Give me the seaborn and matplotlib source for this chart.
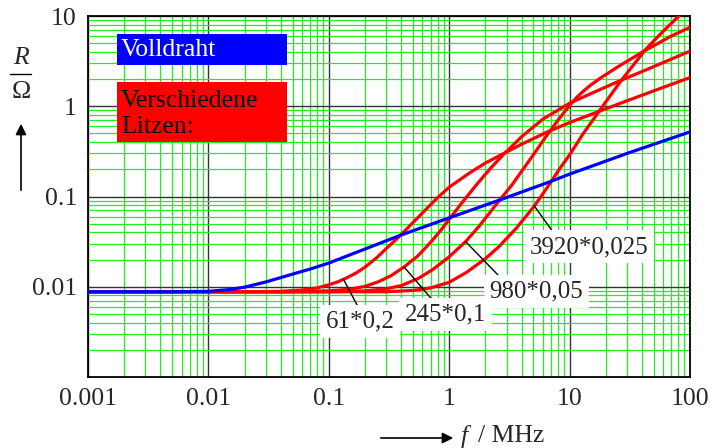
import matplotlib
matplotlib.use("Agg")
import matplotlib.pyplot as plt
from matplotlib.patches import Rectangle, FancyArrowPatch
from matplotlib.ticker import LogLocator, NullFormatter
import numpy as np
import pandas as pd
import seaborn as sns

# --- Daten ---
f_voll = [0.001, 0.005, 0.01, 0.015, 0.02, 0.03, 0.05, 0.07, 0.1, 0.2, 0.4, 1, 2.6, 6.8, 10, 30, 100]
r_voll = [0.0088, 0.0088, 0.0089, 0.0093, 0.0099, 0.0113, 0.0138, 0.0157, 0.0183, 0.0262, 0.0375,
          0.058, 0.091, 0.145, 0.177, 0.30, 0.52]

f_61 = [0.001, 0.02, 0.04, 0.06, 0.08, 0.1, 0.12, 0.14, 0.17, 0.2, 0.25, 0.3, 0.35, 0.4, 0.56, 0.8,
        1, 1.5, 2, 2.77, 4, 6.35, 10, 16.5, 30, 60, 100]
r_61 = [0.0088, 0.0088, 0.0089, 0.0092, 0.0097, 0.0105, 0.0114, 0.0125, 0.0143, 0.0165, 0.021,
        0.0265, 0.032, 0.038, 0.060, 0.097, 0.127, 0.185, 0.235, 0.295, 0.38, 0.51, 0.66, 0.85,
        1.15, 1.62, 2.08]

f_245 = [0.001, 0.05, 0.1, 0.15, 0.2, 0.26, 0.33, 0.42, 0.55, 0.7, 0.85, 1.0, 1.3, 1.7, 2.2, 2.77,
         4, 6, 10, 15, 25.8, 50, 100]
r_245 = [0.0088, 0.0088, 0.0090, 0.0094, 0.0101, 0.0114, 0.0133, 0.0165, 0.022, 0.031, 0.042,
         0.056, 0.088, 0.137, 0.205, 0.285, 0.46, 0.72, 1.08, 1.38, 1.9, 2.75, 4.08]

f_980 = [0.001, 0.1, 0.2, 0.3, 0.4, 0.55, 0.73, 1.0, 1.38, 1.8, 2.6, 3.3, 4.06, 5.0, 6.35, 8, 10,
         11.5, 13, 15, 18, 25, 33, 43, 70, 100]
r_980 = [0.0088, 0.0088, 0.0090, 0.0095, 0.0103, 0.0123, 0.0155, 0.0215, 0.032, 0.048, 0.090,
         0.133, 0.196, 0.29, 0.46, 0.70, 1.02, 1.26, 1.47, 1.72, 2.05, 2.72, 3.4, 4.2, 6.0, 7.5]

f_3920 = [0.001, 0.3, 0.5, 0.7, 1.0, 1.4, 2.0, 2.6, 3.58, 5.08, 6.76, 8.2, 10, 13, 18, 25.8, 43,
          60, 81, 88]
r_3920 = [0.0088, 0.0088, 0.0091, 0.0097, 0.0112, 0.0145, 0.0205, 0.028, 0.044, 0.078, 0.135,
          0.20, 0.29, 0.5, 0.92, 1.8, 4.3, 6.8, 10.0, 11.2]

serien = ["61*0,2", "245*0,1", "980*0,05", "3920*0,025", "Volldraht"]
farben = {"61*0,2": "#ff0000", "245*0,1": "#ff0000", "980*0,05": "#ff0000",
          "3920*0,025": "#ff0000", "Volldraht": "#0000ff"}

frames = []
for name, f, r in [("61*0,2", f_61, r_61), ("245*0,1", f_245, r_245), ("980*0,05", f_980, r_980),
                   ("3920*0,025", f_3920, r_3920), ("Volldraht", f_voll, r_voll)]:
    frames.append(pd.DataFrame({"f": f, "R": r, "serie": name}))
df = pd.concat(frames, ignore_index=True)

# Beschriftungen: Punkt auf Kurve, Textposition
label_xy = {"61*0,2": (0.132, 0.0122), "245*0,1": (0.423, 0.0165),
            "980*0,05": (1.376, 0.0314), "3920*0,025": (5.08, 0.079)}
label_txt = {"61*0,2": (0.182, 0.0041), "245*0,1": (0.93, 0.0049),
             "980*0,05": (5.3, 0.0088), "3920*0,025": (14.5, 0.0276)}
label_rel = {"61*0,2": (0.5, 1.0), "245*0,1": (0.38, 1.0),
             "980*0,05": (0.15, 1.0), "3920*0,025": (0.22, 1.0)}

sns.set_style("white")
plt.rcParams["font.family"] = ["Liberation Serif", "DejaVu Serif"]
FS = 18.5

fig = plt.figure(figsize=(7.12, 4.48), dpi=100)
ax = fig.add_axes([88 / 712, 1 - 377 / 448, 602 / 712, 361 / 448])
ax.set_xscale("log")
ax.set_yscale("log")

sns.lineplot(data=df, x="f", y="R", hue="serie", hue_order=serien, palette=farben,
             estimator=None, sort=False, legend=False, lw=2.3, ax=ax, zorder=5)
for ln in ax.get_lines():
    ln.set_solid_joinstyle("round")

ax.set_xlim(0.001, 100)
ax.set_ylim(0.001, 10)

ax.xaxis.set_minor_locator(LogLocator(base=10, subs=np.arange(2, 10), numticks=20))
ax.yaxis.set_minor_locator(LogLocator(base=10, subs=np.arange(2, 10), numticks=20))
ax.xaxis.set_minor_formatter(NullFormatter())
ax.yaxis.set_minor_formatter(NullFormatter())
ax.grid(which="minor", color="#22ee22", lw=0.9)
ax.grid(which="major", color="#333333", lw=1.0)
ax.set_axisbelow(True)

xt = [0.001, 0.01, 0.1, 1, 10, 100]
ax.set_xticks(xt)
ax.set_xticklabels(["0.001", "0.01", "0.1", "1", "10", "100"], fontsize=FS)
yt = [0.01, 0.1, 1, 10]
ax.set_yticks(yt)
ax.set_yticklabels(["0.01", "0.1", "1", "10"], fontsize=FS)
ax.tick_params(which="both", length=0)
ax.tick_params(axis="x", pad=8)
ax.tick_params(axis="y", pad=8)
ax.set_xlabel("")
ax.set_ylabel("")
for s in ax.spines.values():
    s.set_visible(True)
    s.set_color("black")
    s.set_linewidth(1.3)

# Legendenkästen
ax.add_patch(Rectangle((0.048, 0.864), 0.283, 0.086, transform=ax.transAxes,
                       fc="#0000ff", ec="none", zorder=6))
ax.text(0.055, 0.906, "Volldraht", transform=ax.transAxes, color="white",
        fontsize=FS, va="center", ha="left", zorder=7)
ax.add_patch(Rectangle((0.048, 0.651), 0.283, 0.166, transform=ax.transAxes,
                       fc="#ff0000", ec="none", zorder=6))
ax.text(0.055, 0.728, "Verschiedene\nLitzen:", transform=ax.transAxes, color="black",
        fontsize=FS, va="center", ha="left", linespacing=1.25, zorder=7)

# Kurvenbeschriftungen
for name in serien[:4]:
    ax.annotate(name, xy=label_xy[name], xytext=label_txt[name], fontsize=18,
                ha="center", va="center", zorder=8,
                bbox=dict(fc="white", ec="none", pad=4),
                arrowprops=dict(arrowstyle="-", color="black", lw=1.0,
                                relpos=label_rel[name], shrinkA=0, shrinkB=0))

# Achsenbeschriftung y
fig.text(21 / 712, 1 - 58 / 448, "R", fontsize=FS, style="italic", ha="center", va="center")
fig.add_artist(plt.Line2D([10 / 712, 31 / 712], [1 - 74 / 448, 1 - 74 / 448],
                          color="black", lw=1.0))
fig.text(21 / 712, 1 - 92 / 448, "Ω", fontsize=FS, ha="center", va="center")
fig.add_artist(FancyArrowPatch((21 / 712, 1 - 193 / 448), (21 / 712, 1 - 121 / 448),
                               transform=fig.transFigure, arrowstyle="-|>",
                               mutation_scale=16, color="black", lw=1.2))

# Achsenbeschriftung x
fig.add_artist(FancyArrowPatch((378 / 712, 1 - 438 / 448), (456 / 712, 1 - 438 / 448),
                               transform=fig.transFigure, arrowstyle="-|>",
                               mutation_scale=16, color="black", lw=1.2))
fig.text(461 / 712, 1 - 436 / 448, "f", fontsize=FS, style="italic", ha="left", va="center")
fig.text(478 / 712, 1 - 436 / 448, "/ MHz", fontsize=FS, ha="left", va="center")

fig.savefig("out.png", dpi=100)
